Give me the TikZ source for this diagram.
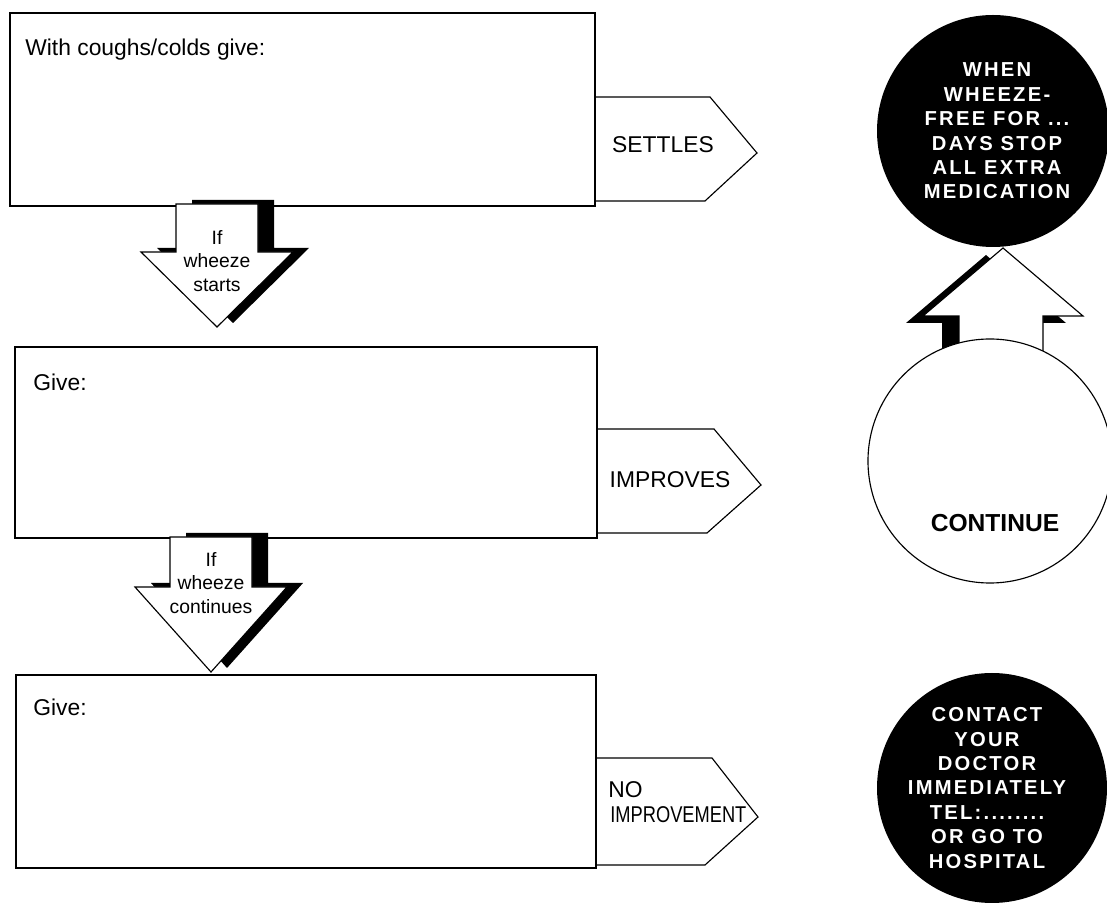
\documentclass[tikz,border=0pt]{standalone}
\usepackage{fontspec}
\usepackage{graphicx}
\setmainfont{Liberation Sans}
\newfontfamily\ringfont{Liberation Sans}[LetterSpace=11]
\usepackage{tikz}

\tikzset{
  boxline/.style={draw=black, line width=0.65pt},
  arrowbody/.style={draw=black, line width=0.65pt, fill=white},
  shadowfill/.style={fill=black},
  boxtext/.style={font=\fontsize{13}{15}\selectfont, inner sep=0pt},
  arrowtext/.style={font=\fontsize{11}{13.3}\selectfont, inner sep=0pt, align=center},
  ringtext/.style={text=white, font=\ringfont\bfseries\fontsize{11.5}{13.9}\selectfont, inner sep=0pt, align=center}
}

\begin{document}
\begin{tikzpicture}[x=0.02cm,y=-0.02cm]
  \useasboundingbox (0,0) rectangle (1107,905);

  \draw[boxline] (10,13) rectangle (595,206);
  \draw[boxline] (595,97) -- (710,97) -- (757,153) -- (705,201) -- (595,201);
  \node[boxtext, anchor=base west] (coldtext) at (25,56) {With coughs/colds give:};
  \node[boxtext, anchor=base] (settles) at (663,153) {SETTLES};

  \draw[boxline] (15,347) rectangle (597,538);
  \draw[boxline] (597,429) -- (714,429) -- (761,485) -- (707,533) -- (597,533);
  \node[boxtext, anchor=base west] (givetwo) at (33,391) {Give:};
  \node[boxtext, anchor=base] (improves) at (670,488) {IMPROVES};

  \draw[boxline] (16,675) rectangle (596,868);
  \draw[boxline] (596,758) -- (712,758) -- (758,817) -- (705,865) -- (596,865);
  \node[boxtext, anchor=base west] (givethree) at (33,716) {Give:};
  \node[boxtext, anchor=base west] (noword) at (608,798) {NO};
  \node[boxtext, anchor=base west] (noimprove) at (610,823) {\scalebox{0.8}[1]{IMPROVEMENT}};

  \fill[shadowfill, shift={(16,-4)}] (176,204) -- (258,204) -- (258,252) -- (293,252) -- (217,327) -- (141,252) -- (176,252) -- cycle;
  \draw[arrowbody] (176,204) -- (258,204) -- (258,252) -- (293,252) -- (217,327) -- (141,252) -- (176,252) -- cycle;
  \node[arrowtext] (starts) at (217,261) {If\\wheeze\\starts};

  \fill[shadowfill, shift={(16,-4)}] (170,537) -- (252,537) -- (252,587) -- (287,587) -- (211,672) -- (135,587) -- (170,587) -- cycle;
  \draw[arrowbody] (170,537) -- (252,537) -- (252,587) -- (287,587) -- (211,672) -- (135,587) -- (170,587) -- cycle;
  \node[arrowtext] (continues) at (211,583) {If\\wheeze\\continues};

  \fill[shadowfill, shift={(-17,7)}] (1003,248) -- (1083,316) -- (1043,316) -- (1043,420) -- (959,420) -- (959,316) -- (923,316) -- cycle;
  \draw[arrowbody] (1003,248) -- (1083,316) -- (1043,316) -- (1043,420) -- (959,420) -- (959,316) -- (923,316) -- cycle;
  \draw[arrowbody] (990,461) circle[radius=122];
  \node[anchor=base, inner sep=0pt, font=\bfseries\fontsize{14}{16}\selectfont] (continue) at (995,532) {CONTINUE};

  \fill[black] (993,131) circle[radius=116];
  \node[ringtext] (stopmeds) at (997,131) {WHEN\\WHEEZE-\\FREE FOR ...\\DAYS STOP\\ALL EXTRA\\MEDICATION};

  \fill[black] (992,788) circle[radius=115];
  \node[ringtext] (doctor) at (987,788) {CONTACT\\YOUR\\DOCTOR\\IMMEDIATELY\\TEL:........\\OR GO TO\\HOSPITAL};
\end{tikzpicture}
\end{document}
